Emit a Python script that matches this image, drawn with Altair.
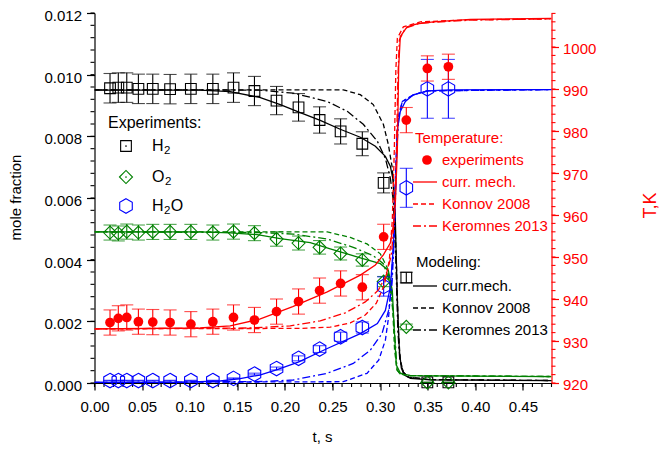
import altair as alt
import pandas as pd

# ---------------- experimental data ----------------
t_exp = [0.0163, 0.0250, 0.0339, 0.0461, 0.0612, 0.0794, 0.1012, 0.1243, 0.1460, 0.1680,
         0.1912, 0.2143, 0.2364, 0.2585, 0.2813, 0.3037, 0.3275, 0.3496, 0.3717]
h2_exp = [0.00956, 0.00958, 0.00958, 0.00954, 0.00954, 0.00953, 0.00954, 0.00954, 0.00958, 0.00947,
          0.00916, 0.00894, 0.00853, 0.00816, 0.00776, 0.00649, 0.00342, 0.00002, 0.00002]
o2_exp = [0.00488, 0.00485, 0.00491, 0.00488, 0.00490, 0.00490, 0.00490, 0.00488, 0.00491, 0.00486,
          0.00467, 0.00454, 0.00440, 0.00420, 0.00399, 0.00329, 0.00182, 0.00002, 0.00002]
h2o_exp = [0.00008, 0.00008, 0.00008, 0.00008, 0.00008, 0.00008, 0.00008, 0.00008, 0.00015, 0.00029,
           0.00047, 0.00080, 0.00110, 0.00150, 0.00180, 0.00313, 0.00633, 0.00954, 0.00954]
T_exp = [934.4, 935.4, 935.6, 934.6, 934.5, 934.4, 934.0, 934.6, 935.6, 935.0,
         937.0, 939.4, 942.0, 943.7, 942.8, 954.8, 982.6, 994.9, 995.3]

H2_REL_ERR = 0.05
O2_REL_ERR = 0.05
H2O_REL_ERR = 0.10
T_ABS_ERR = 3.0

# ---------------- model curves ----------------
# H2
h2_cur_t = [0.0, 0.1109, 0.1425, 0.1735, 0.1951, 0.2161, 0.2371, 0.2581, 0.2792, 0.2950, 0.3055,
            0.3107, 0.3139, 0.3160, 0.3181, 0.3202, 0.3223, 0.3254, 0.3318, 0.3528, 0.48]
h2_cur_v = [0.00950, 0.00950, 0.00945, 0.00926, 0.00903, 0.00877, 0.00852, 0.00823, 0.00797, 0.00768, 0.00735,
            0.00703, 0.00655, 0.00526, 0.00268, 0.00106, 0.00048, 0.00026, 0.00015, 0.00010, 0.00008]
h2_kon_t = [0.0, 0.2613, 0.2792, 0.2928, 0.3034, 0.3086, 0.3128, 0.3149, 0.3170, 0.3191, 0.3212,
            0.3244, 0.3297, 0.3528, 0.48]
h2_kon_v = [0.00951, 0.00951, 0.00935, 0.00903, 0.00839, 0.00774, 0.00697, 0.00590, 0.00397, 0.00171, 0.00074,
            0.00035, 0.00019, 0.00011, 0.00008]
h2_ker_t = [0.0, 0.1735, 0.2087, 0.2445, 0.2655, 0.2823, 0.2971, 0.3055, 0.3107, 0.3139, 0.3165,
            0.3186, 0.3207, 0.3244, 0.3297, 0.3528, 0.48]
h2_ker_v = [0.00951, 0.00950, 0.00940, 0.00913, 0.00881, 0.00839, 0.00784, 0.00729, 0.00665, 0.00590, 0.00397,
            0.00171, 0.00074, 0.00035, 0.00019, 0.00011, 0.00008]
# O2
o2_cur_t = [0.0, 0.1109, 0.1425, 0.1709, 0.1951, 0.2266, 0.2476, 0.2792, 0.3002, 0.3086, 0.3128,
            0.3149, 0.3170, 0.3212, 0.3318, 0.3528, 0.48]
o2_cur_v = [0.00490, 0.00490, 0.00487, 0.00481, 0.00468, 0.00455, 0.00435, 0.00406, 0.00387, 0.00365, 0.00300,
            0.00171, 0.00058, 0.00032, 0.00024, 0.00023, 0.00021]
o2_kon_t = [0.0, 0.2445, 0.2687, 0.2862, 0.3002, 0.3073, 0.3115, 0.3136, 0.3152, 0.3178, 0.3212,
            0.3318, 0.48]
o2_kon_v = [0.00490, 0.00490, 0.00472, 0.00451, 0.00419, 0.00375, 0.00311, 0.00214, 0.00106, 0.00042, 0.00029,
            0.00024, 0.00021]
o2_ker_t = [0.0, 0.1735, 0.2087, 0.2445, 0.2718, 0.2928, 0.3034, 0.3097, 0.3136, 0.3160, 0.3178,
            0.3212, 0.3318, 0.48]
o2_ker_v = [0.00490, 0.00488, 0.00483, 0.00467, 0.00440, 0.00413, 0.00387, 0.00332, 0.00235, 0.00129, 0.00042,
            0.00029, 0.00024, 0.00021]
# H2O
h2o_cur_t = [0.0, 0.0899, 0.1320, 0.1530, 0.1735, 0.1919, 0.2140, 0.2445, 0.2792, 0.2971, 0.3055,
             0.3107, 0.3136, 0.3152, 0.3165, 0.3178, 0.3212, 0.3265, 0.3349, 0.3496, 0.3738, 0.48]
h2o_cur_v = [0.000016, 0.000023, 0.000065, 0.000145, 0.000258, 0.000435, 0.000677, 0.001119, 0.001603, 0.001926,
             0.002355, 0.003097, 0.00429, 0.005355, 0.006548, 0.008161, 0.008806, 0.009129, 0.009345, 0.009474,
             0.009506, 0.009516]
h2o_kon_t = [0.0, 0.2613, 0.2862, 0.2985, 0.3055, 0.3089, 0.3118, 0.3136, 0.3152, 0.3170, 0.3191,
             0.3233, 0.3349, 0.3496, 0.48]
h2o_kon_v = [0.000016, 0.000042, 0.000313, 0.000742, 0.001387, 0.002139, 0.003226, 0.00429, 0.005903, 0.007516,
             0.008645, 0.009129, 0.009345, 0.009474, 0.009516]
h2o_ker_t = [0.0, 0.1772, 0.2087, 0.2442, 0.2718, 0.2897, 0.3020, 0.3089, 0.3125, 0.3142, 0.3160,
             0.3175, 0.3196, 0.3233, 0.3349, 0.3496, 0.48]
h2o_ker_v = [0.000016, 0.000048, 0.000097, 0.000313, 0.000635, 0.001065, 0.001603, 0.002355, 0.003226, 0.00429,
             0.005903, 0.007516, 0.008645, 0.009129, 0.009345, 0.009474, 0.009516]
# Temperature
T_cur_t = [0.0, 0.1109, 0.1425, 0.1735, 0.2082, 0.2445, 0.2792, 0.2950, 0.3034, 0.3107, 0.3139,
           0.3160, 0.3181, 0.3195, 0.3212, 0.3283, 0.3388, 0.3559, 0.3948, 0.48]
T_cur_v = [932.9, 933.1, 933.6, 935.2, 938.2, 941.7, 945.7, 948.1, 950.5, 953.3, 957.6,
           962.9, 975.5, 995.3, 1002.5, 1004.8, 1005.5, 1006.0, 1006.6, 1006.8]
T_kon_t = [0.0, 0.2161, 0.2476, 0.2687, 0.2844, 0.2960, 0.3044, 0.3097, 0.3128, 0.3149, 0.3165,
           0.3181, 0.3244, 0.3423, 0.3948, 0.48]
T_kon_v = [932.9, 933.0, 933.3, 934.3, 936.2, 939.0, 943.3, 949.3, 958.8, 975.5, 994.5,
           1002.1, 1004.8, 1006.0, 1006.5, 1006.7]
T_ker_t = [0.0, 0.1635, 0.2056, 0.2371, 0.2634, 0.2844, 0.2981, 0.3065, 0.3118, 0.3149, 0.3170,
           0.3186, 0.3202, 0.3265, 0.3423, 0.3948, 0.48]
T_ker_v = [932.9, 933.1, 933.6, 934.8, 936.7, 939.3, 942.1, 945.7, 950.5, 958.8, 973.1,
           992.1, 1001.7, 1004.5, 1005.7, 1006.4, 1006.7]

# ---------------- axes ticks ----------------
x_ticks = [0.00, 0.05, 0.10, 0.15, 0.20, 0.25, 0.30, 0.35, 0.40, 0.45]
y_ticks = [0.000, 0.002, 0.004, 0.006, 0.008, 0.010, 0.012]
T_ticks = [920, 930, 940, 950, 960, 970, 980, 990, 1000]
x_minor = [round(i * 0.01, 2) for i in range(49)]
y_minor = [round(i * 0.0004, 4) for i in range(31)]
T_minor = [920 + 2 * i for i in range(45)]

# ---------------- styling ----------------
W, H = 457, 370
FONT = "Liberation Sans"
BLACK, GREEN, BLUE, RED = "#000000", "#008000", "#0000ff", "#ff0000"
DASH = [5, 3]
DASHDOT = [8, 3, 2, 3]
LW = 1.3
HEX = "M0,-1L0.866,-0.5L0.866,0.5L0,1L-0.866,0.5L-0.866,-0.5Z"

xscale = alt.Scale(domain=[0, 0.48], nice=False, zero=False)
yscale = alt.Scale(domain=[0, 0.012], nice=False, zero=False)
Tscale = alt.Scale(domain=[920, 1008.1], nice=False, zero=False)

xaxis = alt.Axis(values=x_ticks, format=".2f", title="t, s", tickSize=7, labelPadding=9,
                 labelFontSize=15, titleFontSize=15, titleFontWeight="normal", labelFont=FONT,
                 titleFont=FONT, grid=False, domainColor=BLACK, tickColor=BLACK, labelColor=BLACK,
                 titleColor=BLACK, labelFlush=False, labelOverlap=False, domainWidth=1.2, tickWidth=1.2,
                 titleX=227.5, titleY=53, titleAlign="center", titleBaseline="middle")
yaxis = alt.Axis(values=y_ticks, format=".3f", title="mole fraction", tickSize=8, labelPadding=5,
                 labelFontSize=15, titleFontSize=15, titleFontWeight="normal", labelFont=FONT,
                 titleFont=FONT, grid=False, domainColor=BLACK, tickColor=BLACK, labelColor=BLACK,
                 titleColor=BLACK, labelFlush=False, labelOverlap=False, domainWidth=1.2, tickWidth=1.2,
                 labelOffset=2.5,
                 titleX=-79, titleY=184, titleAngle=270, titleAlign="center", titleBaseline="middle")
Taxis = alt.Axis(orient="right", values=T_ticks, format="d", title="T,K", tickSize=7, labelPadding=4,
                 labelFontSize=15, titleFontSize=18, titleFontWeight="normal", labelFont=FONT,
                 titleFont=FONT, grid=False, domainColor=RED, tickColor=RED, labelColor=RED,
                 titleColor=RED, labelFlush=False, labelOverlap=False, domainWidth=1.2, tickWidth=1.2,
                 labelOffset=1,
                 titleX=99, titleY=192, titleAngle=270, titleAlign="center", titleBaseline="middle")


def X():
    return alt.X("t:Q", scale=xscale, axis=xaxis)


def Ymf(f="v"):
    return alt.Y(f + ":Q", scale=yscale, axis=yaxis)


def YT(f="T"):
    return alt.Y(f + ":Q", scale=Tscale, axis=Taxis)


def curve(tt, vv, color, dash, temp=False):
    field = "T" if temp else "v"
    df = pd.DataFrame({"t": tt, field: vv})
    kw = dict(color=color, strokeWidth=LW, clip=True)
    if dash is not None:
        kw["strokeDash"] = dash
    return alt.Chart(df).mark_line(**kw).encode(x=X(), y=YT() if temp else Ymf())


def errbars(vv, lo, hi, color, temp=False):
    df = pd.DataFrame({"t": t_exp, "v": vv, "lo": lo, "hi": hi})
    yf = YT if temp else Ymf
    bar = alt.Chart(df).mark_rule(color=color, strokeWidth=1.1).encode(x=X(), y=yf("lo"), y2="hi:Q")
    cap1 = alt.Chart(df).mark_tick(color=color, orient="horizontal", size=13, thickness=1.1).encode(x=X(), y=yf("lo"))
    cap2 = alt.Chart(df).mark_tick(color=color, orient="horizontal", size=13, thickness=1.1).encode(x=X(), y=yf("hi"))
    return [bar, cap1, cap2]


def points(vv, color, shape, size, filled, temp=False):
    field = "T" if temp else "v"
    df = pd.DataFrame({"t": t_exp, field: vv})
    return alt.Chart(df).mark_point(shape=shape, size=size, filled=filled, color=color, opacity=1,
                                    strokeWidth=1.1).encode(x=X(), y=YT() if temp else Ymf())


ONE = pd.DataFrame({"a": [0]})


def txt(s, x, y, color=BLACK, size=15):
    return alt.Chart(ONE).mark_text(text=s, align="left", baseline="middle", font=FONT, fontSize=size,
                                    color=color).encode(x=alt.value(x), y=alt.value(y))


def sym(x, y, color, shape, size, filled):
    return alt.Chart(ONE).mark_point(shape=shape, size=size, filled=filled, color=color, opacity=1,
                                     strokeWidth=1.1).encode(x=alt.value(x), y=alt.value(y))


def seg(x1, x2, y, color, dash):
    kw = dict(color=color, strokeWidth=LW)
    if dash is not None:
        kw["strokeDash"] = dash
    return alt.Chart(ONE).mark_rule(**kw).encode(x=alt.value(x1), x2=alt.value(x2), y=alt.value(y))


# ---------------- mole fraction group ----------------
mf_layers = []
mf_layers.append(alt.Chart(pd.DataFrame({"v": y_minor})).mark_rule(color=BLACK, strokeWidth=1.1)
                 .encode(y=Ymf(), x=alt.value(-4), x2=alt.value(0)))
mf_layers.append(alt.Chart(pd.DataFrame({"t": x_minor})).mark_rule(color=BLACK, strokeWidth=1.1)
                 .encode(x=X(), y=alt.value(H), y2=alt.value(H + 4)))
for tt, vv, c in [(h2_cur_t, h2_cur_v, BLACK), (o2_cur_t, o2_cur_v, GREEN), (h2o_cur_t, h2o_cur_v, BLUE)]:
    mf_layers.append(curve(tt, vv, c, None))
for tt, vv, c in [(h2_kon_t, h2_kon_v, BLACK), (o2_kon_t, o2_kon_v, GREEN), (h2o_kon_t, h2o_kon_v, BLUE)]:
    mf_layers.append(curve(tt, vv, c, DASH))
for tt, vv, c in [(h2_ker_t, h2_ker_v, BLACK), (o2_ker_t, o2_ker_v, GREEN), (h2o_ker_t, h2o_ker_v, BLUE)]:
    mf_layers.append(curve(tt, vv, c, DASHDOT))
for vv, rel, c in [(h2_exp, H2_REL_ERR, BLACK), (o2_exp, O2_REL_ERR, GREEN), (h2o_exp, H2O_REL_ERR, BLUE)]:
    lo = [v * (1 - rel) for v in vv]
    hi = [v * (1 + rel) for v in vv]
    mf_layers += errbars(vv, lo, hi, c)
mf_layers.append(points(h2_exp, BLACK, "square", 115, False))
mf_layers.append(points(o2_exp, GREEN, "diamond", 170, False))
mf_layers.append(points(h2o_exp, BLUE, HEX, 210, False))

# experiments legend (positions inside the plot area, pixels)
mf_layers += [
    txt("Experiments:", 13.5, 110, size=16),
    sym(31.5, 133, BLACK, "square", 115, False), sym(31.5, 133, BLACK, "circle", 3, True),
    txt("H", 57.5, 133, size=16), txt("2", 69.5, 138, size=11.5),
    sym(31.5, 164, GREEN, "diamond", 170, False), sym(31.5, 164, GREEN, "circle", 3, True),
    txt("O", 57.5, 164, size=16), txt("2", 70.5, 169, size=11.5),
    sym(31.5, 193, BLUE, HEX, 210, False),
    txt("H", 57.5, 193, size=16), txt("2", 69.5, 198, size=11.5), txt("O", 76.3, 193, size=16),
]
mf_layers += [
    txt("Modeling:", 321.5, 249),
    seg(318.5, 342.5, 273, BLACK, None), txt("curr.mech.", 347.5, 273),
    seg(318.5, 342.5, 295, BLACK, DASH), txt("Konnov 2008", 347.5, 295),
    seg(318.5, 342.5, 317, BLACK, DASHDOT), txt("Keromnes 2013", 347.5, 317),
]
mf_group = alt.layer(*mf_layers)

# ---------------- temperature group ----------------
T_layers = []
T_layers.append(alt.Chart(pd.DataFrame({"T": T_minor})).mark_rule(color=RED, strokeWidth=1.1)
                .encode(y=YT(), x=alt.value(W), x2=alt.value(W + 4)))
T_layers.append(curve(T_cur_t, T_cur_v, RED, None, temp=True))
T_layers.append(curve(T_kon_t, T_kon_v, RED, DASH, temp=True))
T_layers.append(curve(T_ker_t, T_ker_v, RED, DASHDOT, temp=True))
T_lo = [v - T_ABS_ERR for v in T_exp]
T_hi = [v + T_ABS_ERR for v in T_exp]
T_layers += errbars(T_exp, T_lo, T_hi, RED, temp=True)
T_layers.append(points(T_exp, RED, "circle", 95, True, temp=True))
T_layers += [
    txt("Temperature:", 320.5, 125, color=RED),
    sym(332.5, 147, RED, "circle", 95, True), txt("experiments", 347.5, 147, color=RED),
    seg(318.5, 342.5, 169, RED, None), txt("curr. mech.", 347.5, 169, color=RED),
    seg(318.5, 342.5, 191, RED, DASH), txt("Konnov 2008", 347.5, 191, color=RED),
    seg(318.5, 342.5, 213, RED, DASHDOT), txt("Keromnes 2013", 347.5, 213, color=RED),
]
T_group = alt.layer(*T_layers)

chart = (
    alt.layer(mf_group, T_group)
    .resolve_scale(y="independent")
    .properties(width=W, height=H, autosize=alt.AutoSizeParams(type="none"),
                padding={"left": 86.5, "top": 5, "right": 108.5, "bottom": 63})
    .configure_view(stroke=None)
)

chart.save("out.html", embed_options={"renderer": "svg", "actions": False})
